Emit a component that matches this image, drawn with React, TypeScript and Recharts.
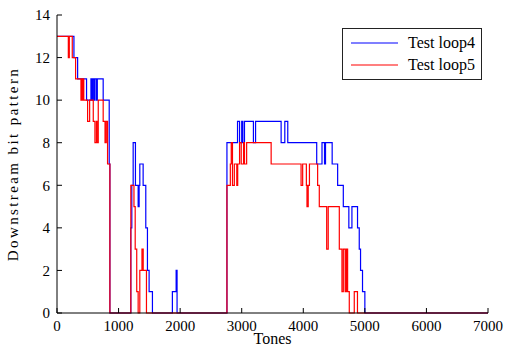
import React from 'react';
import { LineChart, Line, XAxis, YAxis, Legend } from 'recharts';

// bit loading per tone (step changes only)
const loop4Tones = [
  0, 275, 335, 480, 551, 565, 580, 600, 615, 640, 655, 750, 848, 859,
  1199, 1215, 1237, 1274, 1318, 1334, 1345, 1399, 1442, 1469, 1496, 1550,
  1874, 1935, 1950,
  2760, 2932, 2965, 3000, 3018, 3045, 3190, 3225, 3640, 3700, 3748,
  4218, 4304, 4345, 4361, 4469, 4558, 4650, 4740, 4790, 4881, 4909, 4930, 4962, 5000, 7000,
];
const loop4Bits = [
  13, 12, 11, 10, 11, 10, 11, 10, 11, 10, 11, 10, 7, 0,
  4, 6, 8, 6, 5, 6, 7, 6, 4, 2, 1, 0,
  1, 2, 0,
  8, 9, 8, 9, 8, 9, 8, 9, 8, 9, 8,
  7, 8, 7, 8, 7, 6, 5, 4, 5, 4, 3, 2, 1, 0, 0,
];

const loop5Tones = [
  0, 184, 200, 248, 302, 389, 400, 410, 425, 435, 497, 530, 589, 616, 640, 650, 670, 750, 780, 800, 821, 859,
  1199, 1250, 1270, 1295, 1318, 1345, 1380, 1400, 1453,
  2760, 2815, 2830, 2850, 2880, 2920, 2935, 2965, 2992, 3030, 3045, 3080, 3478,
  3964, 3990, 4050, 4060, 4080, 4100, 4233, 4260, 4380, 4405, 4585, 4628, 4650, 4680, 4700, 4720, 4747, 4828, 4880, 7000,
];
const loop5Bits = [
  13, 12, 13, 12, 11, 10, 11, 10, 11, 10, 9, 10, 9, 8, 9, 8, 10, 9, 8, 9, 7, 0,
  6, 5, 3, 1, 0, 2, 3, 2, 0,
  6, 7, 8, 6, 7, 6, 7, 8, 7, 8, 7, 8, 7,
  6, 7, 6, 5, 6, 7, 6, 5, 3, 5, 3, 1, 3, 1, 3, 1, 0, 1, 0, 0,
];

const toneTicks = [0, 1000, 2000, 3000, 4000, 5000, 6000, 7000];
const bitTicks = [0, 2, 4, 6, 8, 10, 12, 14];

const toRows = (tones: number[], bits: number[]) => tones.map((tone, i) => ({ tone, bits: bits[i] }));
const loop4 = toRows(loop4Tones, loop4Bits);
const loop5 = toRows(loop5Tones, loop5Bits);

const FONT = '"Liberation Serif", "DejaVu Serif", serif';
const tickStyle = { fontSize: 15, fill: '#000', fontFamily: FONT, style: { fontFamily: FONT } };

function LegendBox({ payload }: any) {
  return (
    <div
      style={{
        width: 140,
        height: 52,
        border: '1px solid #222',
        background: '#fff',
        fontFamily: FONT,
        fontSize: 16,
        color: '#000',
        boxSizing: 'border-box',
        paddingTop: 3,
      }}
    >
      {(payload || []).map((p: any) => (
        <div key={p.value} style={{ display: 'flex', alignItems: 'center', height: 22, fontFamily: FONT }}>
          <svg width={57} height={10} style={{ marginLeft: 8 }}>
            <line x1={0} y1={5} x2={47} y2={5} stroke={p.color} strokeWidth={1.2} />
          </svg>
          <span style={{ fontFamily: FONT }}>{p.value}</span>
        </div>
      ))}
    </div>
  );
}

export default function App() {
  return (
    <div style={{ position: 'absolute', left: 0, top: 0, background: '#fff', fontFamily: FONT }}>
      <LineChart width={508} height={360} margin={{ top: 15, right: 20, bottom: 0, left: 0 }} style={{ fontFamily: FONT }}>
        <XAxis
          xAxisId="bottom"
          type="number"
          dataKey="tone"
          domain={[0, 7000]}
          ticks={toneTicks}
          height={47}
          tickSize={-5}
          tickMargin={12}
          stroke="#000"
          tick={tickStyle}
          label={{ value: 'Tones', position: 'insideBottom', offset: 16, style: { fontSize: 16, fill: '#000', fontFamily: FONT } }}
        />
        <XAxis xAxisId="top" orientation="top" type="number" domain={[0, 7000]} ticks={toneTicks} height={0} tickSize={-5} tick={false} stroke="#000" />
        <YAxis
          yAxisId="left"
          type="number"
          domain={[0, 14]}
          ticks={bitTicks}
          width={57}
          tickSize={-5}
          tickMargin={12}
          stroke="#000"
          tick={tickStyle}
          label={{
            value: 'Downstream bit pattern',
            angle: -90,
            position: 'insideLeft',
            offset: 13,
            style: { textAnchor: 'middle', fontSize: 15, letterSpacing: 2.4, fill: '#000', fontFamily: FONT },
          }}
        />
        <YAxis yAxisId="right" orientation="right" type="number" domain={[0, 14]} ticks={bitTicks} width={0} tickSize={-5} tick={false} stroke="#000" />
        <Legend
          layout="vertical"
          align="center"
          verticalAlign="middle"
          content={<LegendBox />}
          wrapperStyle={{ left: 342, top: 28, width: 140 }}
        />
        <Line
          xAxisId="bottom"
          yAxisId="left"
          data={loop4}
          dataKey="bits"
          name="Test loop4"
          type="stepAfter"
          stroke="#0000ff"
          strokeWidth={1.2}
          dot={false}
          isAnimationActive={false}
        />
        <Line
          xAxisId="bottom"
          yAxisId="left"
          data={loop5}
          dataKey="bits"
          name="Test loop5"
          type="stepAfter"
          stroke="#ff0000"
          strokeWidth={1.2}
          dot={false}
          isAnimationActive={false}
        />
      </LineChart>
    </div>
  );
}
